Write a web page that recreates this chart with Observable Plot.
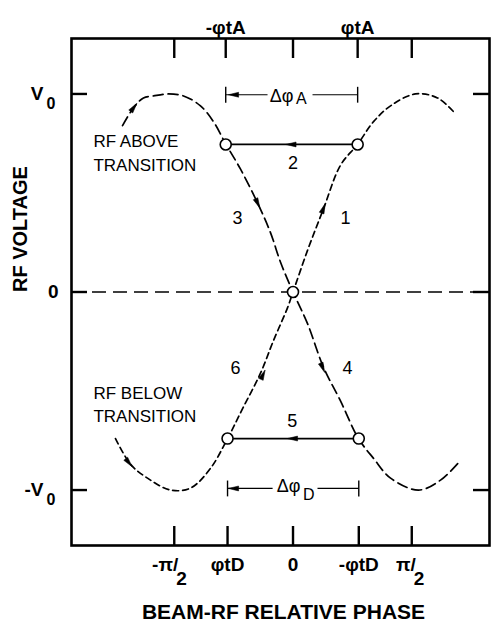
<!DOCTYPE html>
<html><head><meta charset="utf-8">
<script src="https://cdn.jsdelivr.net/npm/d3@7"></script>
<script src="https://cdn.jsdelivr.net/npm/@observablehq/plot@0.6"></script>
<style>body{margin:0;background:#fff}</style>
</head><body><div id="chart"></div>
<script>
// ---- data (phase in radians, voltage in units of V0) ----
// RF above transition curve (long dashes)
const phaseA = [-2.255,-2.110,-1.978,-1.845,-1.647,-1.448,-1.224,-1.052,-0.893,-0.694,-0.470,-0.298,-0.165,0,0.192,0.403,0.628,0.866,1.065,1.290,1.660,1.951,2.216];
const voltA  = [0.84,0.93,0.98,0.99,1.0,0.99,0.94,0.86,0.75,0.62,0.45,0.30,0.15,0,-0.16,-0.38,-0.55,-0.74,-0.84,-0.94,-1.0,-0.95,-0.85];
// RF below transition curve (short dashes)
const phaseB = [-2.348,-2.149,-1.925,-1.620,-1.356,-1.091,-0.866,-0.655,-0.430,-0.258,-0.073,0,0.192,0.403,0.628,0.853,1.065,1.290,1.620,1.911,2.149];
const voltB  = [-0.74,-0.87,-0.94,-1.0,-0.99,-0.89,-0.74,-0.58,-0.41,-0.245,-0.08,0,0.21,0.42,0.64,0.745,0.86,0.94,1.0,0.98,0.90];
// synchronous points
const phiTA = [-0.89, 0.855];   // -φtA, φtA
const phiTD = [-0.866, 0.87];   // φtD, -φtD
const vSync = [0.745, -0.74];
const circlePhase = [phiTA[0], phiTA[1], 0, phiTD[0], phiTD[1]];
const circleVolt  = [vSync[0], vSync[0], 0, vSync[1], vSync[1]];
// ticks & labels
const topTickPhase = [-Math.PI/2, phiTA[0], 0, phiTA[1], Math.PI/2];
const topLabels    = ["", "-φtA", "", "φtA", ""];
const bottomTickPhase = [-Math.PI/2, phiTD[0], 0, phiTD[1], Math.PI/2];
const bottomLabels    = ["-π/", "φtD", "0", "-φtD", "π/"];
const bottomSubs      = ["2", "", "", "", "2"];
const yTickVolt = [1, 0, -1];
const yLabels   = ["V", "0", "-V"];
const ySubs     = ["0", "", "0"];
// step numbers
const stepLabels = ["1","2","3","4","5","6"];
const stepPhase  = [0.694, 0.0, -0.734, 0.721, -0.01, -0.761];
const stepVolt   = [0.371, 0.649, 0.371, -0.386, -0.654, -0.386];
// region notes
const noteLabels = ["RF ABOVE", "TRANSITION", "RF BELOW", "TRANSITION"];
const notePhase  = [-2.64, -2.64, -2.64, -2.64];
const noteVolt   = [0.758, 0.641, -0.513, -0.629];
// Δφ dimension lines
const dimVolt = [0.996, -0.992];
const dimSegA = [[-0.89, -0.337], [0.258, 0.855]];
const dimSegD = [[-0.866, -0.27], [0.324, 0.87]];
// arrowheads: position and direction (from -> to)
const arrowPhase = [-2.11, -0.47, 0.39, -2.175, -0.40, 0.40, -0.02, 0.0, -0.78, -0.78];
const arrowVolt  = [0.93, 0.45, -0.38, -0.86, -0.42, 0.42, 0.745, -0.74, 0.996, -0.992];
const arrowFrom  = [[-2.255,0.84],[-0.694,0.62],[0.192,-0.16],[-2.348,-0.74],[-0.655,-0.58],[0.192,0.21],[0.5,0.745],[0.5,-0.74],[0,0.996],[0,-0.992]];
const arrowTo    = [[-1.978,0.98],[-0.298,0.30],[0.628,-0.55],[-1.925,-0.94],[-0.258,-0.245],[0.628,0.64],[-0.5,0.745],[-0.5,-0.74],[-1,0.996],[-1,-0.992]];

// ---- layout ----
const W = 491, H = 632, ml = 71, mr = 2, mt = 38, mb = 87;
const xDomain = [-2.93, 2.599], yDomain = [-1.28, 1.28];
const fw = W - ml - mr, fh = H - mt - mb;
const kx = fw / (xDomain[1] - xDomain[0]);
const ky = fh / (yDomain[1] - yDomain[0]);

const curveA = phaseA.map((p, i) => ({p, v: voltA[i]}));
const curveB = phaseB.map((p, i) => ({p, v: voltB[i]}));
const circles = circlePhase.map((p, i) => ({p, v: circleVolt[i]}));
const syncLines = [{x1: phiTA[1], x2: phiTA[0], y: vSync[0]}, {x1: phiTD[1], x2: phiTD[0], y: vSync[1]}];
const dims = [
  ...dimSegA.map(s => ({x1: s[0], x2: s[1], y: dimVolt[0]})),
  ...dimSegD.map(s => ({x1: s[0], x2: s[1], y: dimVolt[1]}))
];
const dimTicks = [
  {x: phiTA[0], y: dimVolt[0]}, {x: phiTA[1], y: dimVolt[0]},
  {x: phiTD[0], y: dimVolt[1]}, {x: phiTD[1], y: dimVolt[1]}
];
const arrows = arrowPhase.map((p, i) => ({
  p, v: arrowVolt[i],
  rot: Math.atan2(-(arrowTo[i][1] - arrowFrom[i][1]) * ky, (arrowTo[i][0] - arrowFrom[i][0]) * kx) * 180 / Math.PI + 90
}));
const steps = stepLabels.map((t, i) => ({t, p: stepPhase[i], v: stepVolt[i]}));
const notes = noteLabels.map((t, i) => ({t, p: notePhase[i], v: noteVolt[i]}));
const topT = topTickPhase.map((p, i) => ({p, t: topLabels[i]})).filter(d => d.t);
const botT = bottomTickPhase.map((p, i) => ({p, t: bottomLabels[i], s: bottomSubs[i]}));
const yT = yTickVolt.map((v, i) => ({v, t: yLabels[i], s: ySubs[i]}));

const arrowSymbol = {
  draw(ctx, size) {
    const r = Math.sqrt(size / Math.PI);
    ctx.moveTo(0, -r * 1.5);
    ctx.lineTo(r * 0.65, r * 1.2);
    ctx.lineTo(-r * 0.65, r * 1.2);
    ctx.closePath();
  }
};

const font = "Liberation Sans, Arial, sans-serif";
const chart = Plot.plot({
  width: W, height: H,
  marginLeft: ml, marginRight: mr, marginTop: mt, marginBottom: mb,
  x: {domain: xDomain, axis: null},
  y: {domain: yDomain, axis: null},
  style: {fontFamily: font, background: "white", color: "black"},
  marks: [
    // zero line
    Plot.ruleY([0], {stroke: "black", strokeWidth: 1.6, strokeDasharray: "14,7"}),
    // frame ticks
    Plot.ruleX(topTickPhase, {stroke: "black", strokeWidth: 2.4, insetBottom: fh - 20}),
    Plot.ruleX(bottomTickPhase, {stroke: "black", strokeWidth: 2.4, insetTop: fh - 19}),
    Plot.ruleY(yTickVolt, {stroke: "black", strokeWidth: 2.4, insetRight: fw - 16}),
    Plot.ruleY(yTickVolt, {stroke: "black", strokeWidth: 2.4, insetLeft: fw - 16}),
    Plot.frame({stroke: "black", strokeWidth: 2.6}),
    // curves
    Plot.line(curveA, {x: "p", y: "v", curve: "catmull-rom", stroke: "black", strokeWidth: 1.7, strokeDasharray: "10,5"}),
    Plot.line(curveB, {x: "p", y: "v", curve: "catmull-rom", stroke: "black", strokeWidth: 1.7, strokeDasharray: "6,4"}),
    // synchronous phase jumps
    Plot.link(syncLines, {x1: "x1", x2: "x2", y1: "y", y2: "y", stroke: "black", strokeWidth: 1.7}),
    // dimension lines
    Plot.link(dims, {x1: "x1", x2: "x2", y1: "y", y2: "y", stroke: "black", strokeWidth: 1.2}),
    Plot.link(dimTicks, {x1: "x", x2: "x", y1: d => d.y + 0.04, y2: d => d.y - 0.04, stroke: "black", strokeWidth: 1.4}),
    // arrowheads
    Plot.dot(arrows, {x: "p", y: "v", r: 3.8, symbol: arrowSymbol, rotate: "rot", fill: "black", stroke: "black", strokeWidth: 0.5}),
    // circles
    Plot.dot(circles, {x: "p", y: "v", r: 5.5, fill: "white", stroke: "black", strokeWidth: 1.6}),
    // annotations
    Plot.text(notes, {x: "p", y: "v", text: "t", textAnchor: "start", fontSize: 17, letterSpacing: 0.3, fill: "black"}),
    Plot.text(steps, {x: "p", y: "v", text: "t", fontSize: 18, fill: "black"}),
    Plot.text([{p: -0.152, v: 0.99}], {x: "p", y: "v", text: () => "Δφ", fontSize: 18, fill: "black"}),
    Plot.text([{p: 0.11, v: 0.975}], {x: "p", y: "v", text: () => "A", fontSize: 16, fill: "black"}),
    Plot.text([{p: -0.06, v: -0.982}], {x: "p", y: "v", text: () => "Δφ", fontSize: 18, fill: "black"}),
    Plot.text([{p: 0.21, v: -1.025}], {x: "p", y: "v", text: () => "D", fontSize: 16, fill: "black"}),
    // top tick labels
    Plot.text(topT, {x: "p", text: "t", frameAnchor: "top", dy: -18, fontSize: 19, fontWeight: "bold", letterSpacing: 1.5}),
    // bottom tick labels
    Plot.text(botT.filter(d => !d.s), {x: "p", text: "t", frameAnchor: "bottom", dy: 25, fontSize: 19, fontWeight: "bold", letterSpacing: 1.5}),
    Plot.text(botT.filter(d => d.s), {x: "p", text: "t", frameAnchor: "bottom", dy: 25, dx: 4, textAnchor: "end", fontSize: 19, fontWeight: "bold", letterSpacing: 1}),
    Plot.text(botT.filter(d => d.s), {x: "p", text: "s", frameAnchor: "bottom", dy: 39, dx: 2, textAnchor: "start", fontSize: 19, fontWeight: "bold"}),
    // y tick labels
    Plot.text(yT.filter(d => d.s), {y: "v", text: "t", frameAnchor: "left", dx: -28, textAnchor: "end", fontSize: 19, fontWeight: "bold", letterSpacing: 1}),
    Plot.text(yT.filter(d => d.s), {y: "v", text: "s", frameAnchor: "left", dx: -25, dy: 10, textAnchor: "start", fontSize: 16, fontWeight: "bold"}),
    Plot.text(yT.filter(d => !d.s), {y: "v", text: "t", frameAnchor: "left", dx: -13, textAnchor: "end", fontSize: 19, fontWeight: "bold"}),
    // axis titles
    Plot.text(["RF VOLTAGE"], {frameAnchor: "left", dx: -51, rotate: -90, fontSize: 20, fontWeight: "bold", letterSpacing: 3}),
    Plot.text(["BEAM-RF RELATIVE PHASE"], {frameAnchor: "bottom", dy: 73, dx: 3, fontSize: 21, fontWeight: "bold", letterSpacing: 1.3})
  ]
});
document.getElementById("chart").appendChild(chart);
</script>
</body></html>
